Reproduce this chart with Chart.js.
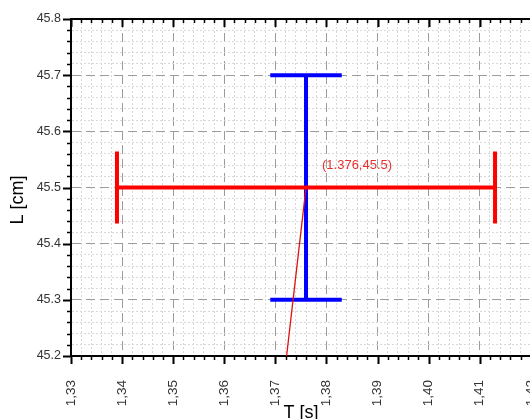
<!DOCTYPE html>
<html>
<head>
<meta charset="utf-8">
<script src="https://cdn.jsdelivr.net/npm/chart.js@4/dist/chart.umd.min.js"></script>
<style>
  html, body { margin: 0; padding: 0; background: #fff; overflow: hidden; }
  #wrap { position: absolute; left: 0; top: 0; width: 571px; height: 430px; }
</style>
</head>
<body>
<div id="wrap"><canvas id="chart"></canvas></div>
<script>
// measured point and its uncertainties
var pointT = [1.376];
var pointL = [45.5];
var errT = [0.037];   // half length of the red (T) bar
var errL = [0.2];     // half length of the blue (L) bar
var capT = [0.007];   // half width of the blue caps, in T units
var capL = [0.064];   // half height of the red caps, in L units

// thin red line through the point
var lineT = [1.3722, 1.376];
var lineL = [45.2, 45.5];

// tick labels on the major ticks
var tLabels = ['1,33', '1,34', '1,35', '1,36', '1,37', '1,38', '1,39', '1,40', '1,41', '1,42'];
var lLabels = ['45.2', '45.3', '45.4', '45.5', '45.6', '45.7', '45.8'];

var RED = '#ff0000';
var BLUE = '#0000ff';
var FONT = "'Liberation Sans', Arial, sans-serif";

function pts(xs, ys) {
  return xs.map(function (x, i) { return { x: x, y: ys[i] }; });
}

function seg(data, color, width) {
  return {
    data: data,
    showLine: true,
    borderColor: color,
    backgroundColor: color,
    borderWidth: width,
    pointRadius: 0,
    fill: false,
  };
}

var t0 = pointT[0], l0 = pointL[0];
var datasets = [
  seg(pts(lineT, lineL), '#e01010', 1.3),
  seg(pts([t0 - errT[0], t0 + errT[0]], [l0, l0]), RED, 4),
  seg(pts([t0 - errT[0], t0 - errT[0]], [l0 - capL[0], l0 + capL[0]]), RED, 4),
  seg(pts([t0 + errT[0], t0 + errT[0]], [l0 - capL[0], l0 + capL[0]]), RED, 4),
  seg(pts([t0, t0], [l0 - errL[0], l0 + errL[0]]), BLUE, 4),
  seg(pts([t0 - capT[0], t0 + capT[0]], [l0 - errL[0], l0 - errL[0]]), BLUE, 4),
  seg(pts([t0 - capT[0], t0 + capT[0]], [l0 + errL[0], l0 + errL[0]]), BLUE, 4),
];

function isMajor(ctx) {
  return ctx && ctx.index !== undefined && ctx.index % 5 === 0;
}

function gridColor(ctx) { return isMajor(ctx) ? '#9c9c9c' : '#d8d8d8'; }
function gridDash(ctx) { return isMajor(ctx) ? [9, 5] : [2, 2]; }

// axis ticks, top frame line and the point label
var frame = {
  id: 'frame',
  afterDraw: function (chart) {
    var ctx = chart.ctx;
    var a = chart.chartArea;
    var x = chart.scales.x;
    var y = chart.scales.y;
    ctx.save();
    ctx.strokeStyle = '#000';
    x.ticks.forEach(function (t, i) {
      var px = Math.round(x.getPixelForValue(t.value)) + 0.5;
      var len = i % 5 === 0 ? 8 : 4;
      ctx.lineWidth = i % 5 === 0 ? 2 : 1.5;
      ctx.beginPath();
      ctx.moveTo(px, a.bottom);
      ctx.lineTo(px, a.bottom + len);
      ctx.moveTo(px, a.top);
      ctx.lineTo(px, a.top + len);
      ctx.stroke();
    });
    y.ticks.forEach(function (t, i) {
      var py = Math.round(y.getPixelForValue(t.value)) + 0.5;
      var len = i % 5 === 0 ? 8 : 4;
      ctx.lineWidth = i % 5 === 0 ? 2 : 1.5;
      ctx.beginPath();
      ctx.moveTo(a.left, py);
      ctx.lineTo(a.left - len, py);
      ctx.stroke();
    });
    ctx.lineWidth = 2;
    ctx.beginPath();
    ctx.moveTo(a.left - 1, a.top);
    ctx.lineTo(a.right, a.top);
    ctx.stroke();

    ctx.fillStyle = '#e8302f';
    ctx.font = '13px ' + FONT;
    ctx.textAlign = 'left';
    ctx.textBaseline = 'middle';
    ctx.fillText('(' + t0 + ',' + l0 + ')', x.getPixelForValue(t0) + 16, y.getPixelForValue(l0) - 22);
    ctx.restore();
  }
};

new Chart(document.getElementById('chart'), {
  type: 'scatter',
  data: { datasets: datasets },
  plugins: [frame],
  options: {
    responsive: true,
    maintainAspectRatio: false,
    animation: false,
    layout: { padding: { top: 19, right: 0, bottom: 0, left: 0 } },
    plugins: {
      legend: { display: false },
      tooltip: { enabled: false },
    },
    scales: {
      x: {
        type: 'linear',
        min: 1.33,
        max: 1.42,
        afterFit: function (s) { s.height = 74; },
        ticks: {
          stepSize: 0.002,
          autoSkip: false,
          maxRotation: 90,
          minRotation: 90,
          padding: 24,
          color: '#333',
          font: { family: FONT, size: 13.5 },
          callback: function (v, i) { return i % 5 === 0 ? tLabels[i / 5] : ''; },
        },
        grid: { color: gridColor, lineWidth: 1, drawTicks: false },
        border: { display: true, color: '#000', width: 2, dash: gridDash },
        title: {
          display: true,
          text: 'T [s]',
          color: '#000',
          font: { family: FONT, size: 18 },
          padding: { top: 0, bottom: 6 },
        },
      },
      y: {
        type: 'linear',
        min: 45.2,
        max: 45.8,
        afterFit: function (s) { s.width = 71; },
        ticks: {
          stepSize: 0.02,
          autoSkip: false,
          padding: 10,
          color: '#333',
          font: { family: FONT, size: 12.5 },
          callback: function (v, i) { return i % 5 === 0 ? lLabels[i / 5] : ''; },
        },
        grid: { color: gridColor, lineWidth: 1, drawTicks: false },
        border: { display: true, color: '#000', width: 2, dash: gridDash },
        title: {
          display: true,
          text: 'L [cm]     ',
          color: '#000',
          font: { family: FONT, size: 18 },
          padding: { top: 7, bottom: 0 },
        },
      },
    },
  },
});
</script>
</body>
</html>
